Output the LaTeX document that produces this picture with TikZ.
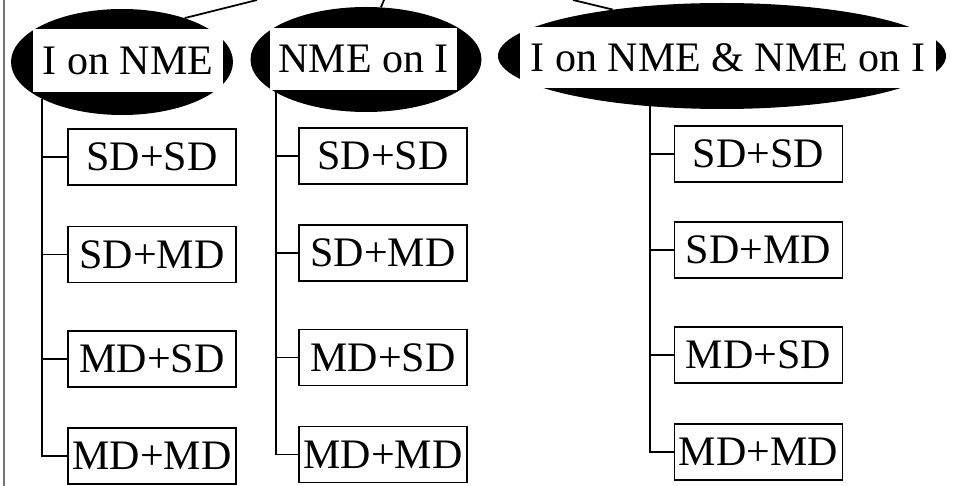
\documentclass[tikz,border=0pt]{standalone}
\usepackage{fontspec}
\setmainfont{Liberation Serif}
\usetikzlibrary{shapes.geometric}
\begin{document}
\begin{tikzpicture}[x=1pt,y=-1pt,
  blob/.style={ellipse,fill=black,inner sep=0pt},
  tag/.style={rectangle,fill=white,inner sep=0pt,font=\fontsize{42}{50}\selectfont},
  leaf/.style={rectangle,draw,line width=1.8pt,inner sep=0pt,
               minimum width=168pt,minimum height=56pt,
               font=\fontsize{42}{50}\selectfont},
  wire/.style={line width=1.8pt},
  frame/.style={line width=1.2pt,black!55}]
\useasboundingbox (0,0) rectangle (956,486);

% thin rule along the left edge
\draw[frame] (4,0) -- (4,486);

% group heads: black ellipse with a white label band
\node[blob,minimum width=222pt,minimum height=106pt] (e1) at (122,62) {};
\node[tag,minimum width=190pt,minimum height=63pt] (l1) at (128,60.5) {I on NME};
\node[blob,minimum width=231pt,minimum height=105pt] (e2) at (366,59.5) {};
\node[tag,minimum width=187pt,minimum height=62pt] (l2) at (363.5,59) {NME on I};
\node[blob,minimum width=448pt,minimum height=106pt] (e3) at (722,56) {};
\node[tag,minimum width=416pt,minimum height=61pt] (l3) at (728,57.5) {I on NME \& NME on I};

% links up to the parent above
\coordinate (r1) at (257,0);
\coordinate (r2) at (384,0);
\coordinate (r3) at (573,0);
\draw[wire] (e1.35) -- (r1);
\draw[wire] (e2.74) -- (r2);
\draw[wire] (e3.157) -- (r3);

% column 1
\node[leaf] (a1) at (152,157) {SD+SD};
\node[leaf] (a2) at (152,254.5) {SD+MD};
\node[leaf] (a3) at (152,359) {MD+SD};
\node[leaf] (a4) at (152,456) {MD+MD};
% column 2
\node[leaf] (b1) at (383,156) {SD+SD};
\node[leaf] (b2) at (383,253) {SD+MD};
\node[leaf] (b3) at (383,357.5) {MD+SD};
\node[leaf] (b4) at (383,454.5) {MD+MD};
% column 3
\node[leaf] (c1) at (758.5,154) {SD+SD};
\node[leaf] (c2) at (758.5,250) {SD+MD};
\node[leaf] (c3) at (758.5,355) {MD+SD};
\node[leaf] (c4) at (758.5,452) {MD+MD};

% trunks and branches
\draw[wire] (e1.205) |- (a4.west);
\foreach \n in {a1,a2,a3} \draw[wire] (e1.205 |- \n.west) -- (\n.west);
\draw[wire] (e2.200) |- (b4.west);
\foreach \n in {b1,b2,b3} \draw[wire] (e2.200 |- \n.west) -- (\n.west);
\draw[wire] (e3.215) |- (c4.west);
\foreach \n in {c1,c2,c3} \draw[wire] (e3.215 |- \n.west) -- (\n.west);
\end{tikzpicture}
\end{document}
